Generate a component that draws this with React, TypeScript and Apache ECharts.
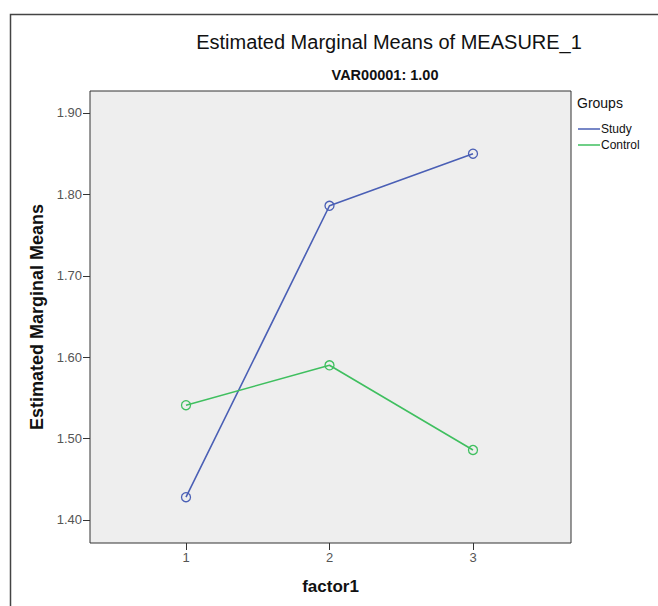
import React, { useEffect, useRef } from "react";
import * as echarts from "echarts";

const factorLevels = [1, 2, 3];
const studyMeans = [1.428, 1.786, 1.85];
const controlMeans = [1.541, 1.59, 1.486];
const yTicks = [1.4, 1.5, 1.6, 1.7, 1.8, 1.9];
const groupNames = ["Study", "Control"];
const groupColors = ["#4a5fb5", "#3fbf5f"];
const titleText = "Estimated Marginal Means of MEASURE_1";
const subtitleText = "VAR00001: 1.00";

const FONT = "'Liberation Sans', Arial, sans-serif";

export default function App() {
  const ref = useRef<HTMLDivElement>(null);
  useEffect(() => {
    if (!ref.current) return;
    const chart = echarts.init(ref.current, null, { renderer: "svg" });
    const mk = (vals: number[]) => factorLevels.map((f, i) => [f, vals[i]]);
    const seriesOf = (i: number, vals: number[]) => ({
      name: groupNames[i],
      type: "line",
      data: mk(vals),
      symbol: "circle",
      symbolSize: 9,
      color: groupColors[i],
      lineStyle: { width: 1.6, color: groupColors[i] },
      itemStyle: { color: "rgba(0,0,0,0)", borderColor: groupColors[i], borderWidth: 1.3 },
    });
    chart.setOption({
      animation: false,
      backgroundColor: "#ffffff",
      textStyle: { fontFamily: FONT },
      title: [
        {
          text: titleText,
          left: 384,
          top: 27,
          textAlign: "center",
          textStyle: { fontFamily: FONT, fontSize: 20, fontWeight: "normal", color: "#111" },
        },
        {
          text: subtitleText,
          left: 380,
          top: 62,
          textAlign: "center",
          textStyle: { fontFamily: FONT, fontSize: 14.5, fontWeight: "bold", color: "#111" },
        },
      ],
      legend: {
        orient: "vertical",
        left: 573,
        top: 118,
        itemWidth: 22,
        itemHeight: 1.5,
        itemGap: 4,
        icon: "rect",
        data: groupNames.map((n, i) => ({
          name: n,
          itemStyle: { color: groupColors[i], borderWidth: 0 },
        })),
        textStyle: { fontFamily: FONT, fontSize: 12, color: "#111", padding: [0, 0, 0, -4] },
      },
      grid: {
        left: 90,
        top: 91,
        width: 481,
        height: 452,
        show: true,
        backgroundColor: "#eeeeee",
        borderColor: "#333333",
        borderWidth: 1,
      },
      xAxis: {
        type: "value",
        min: 0.331,
        max: 3.683,
        name: "factor1",
        nameLocation: "middle",
        nameGap: 35,
        nameTextStyle: { fontFamily: FONT, fontSize: 17, fontWeight: "bold", color: "#111" },
        axisLine: { show: false },
        splitLine: { show: false },
        axisTick: { show: true, customValues: factorLevels, length: 7, lineStyle: { color: "#333" } },
        axisLabel: {
          customValues: factorLevels,
          fontFamily: FONT,
          fontSize: 13,
          color: "#555",
          margin: 8,
        },
      },
      yAxis: {
        type: "value",
        min: 1.3717,
        max: 1.927,
        name: "Estimated Marginal Means",
        nameLocation: "middle",
        nameGap: 44,
        nameMoveOverlap: false,
        nameTextStyle: { fontFamily: FONT, fontSize: 18, fontWeight: "bold", color: "#111" },
        axisLine: { show: false },
        splitLine: { show: false },
        axisTick: { show: true, customValues: yTicks, length: 7, lineStyle: { color: "#333" } },
        axisLabel: {
          customValues: yTicks,
          fontFamily: FONT,
          fontSize: 13,
          color: "#555",
          margin: 8,
          formatter: (v: number) => v.toFixed(2),
        },
      },
      graphic: [
        {
          type: "rect",
          shape: { x: 10.5, y: 14.5, width: 700, height: 700 },
          style: { fill: "none", stroke: "#444", lineWidth: 1.5 },
          silent: true,
          z: -10,
        },
        {
          type: "text",
          left: 577,
          top: 96,
          style: { text: "Groups", fontFamily: FONT, fontSize: 14, fill: "#111" },
        },
      ],
      series: [seriesOf(0, studyMeans), seriesOf(1, controlMeans)],
    });
    return () => chart.dispose();
  }, []);
  return (
    <div
      ref={ref}
      style={{ position: "fixed", left: 0, top: 0, width: 658, height: 606 }}
    />
  );
}
